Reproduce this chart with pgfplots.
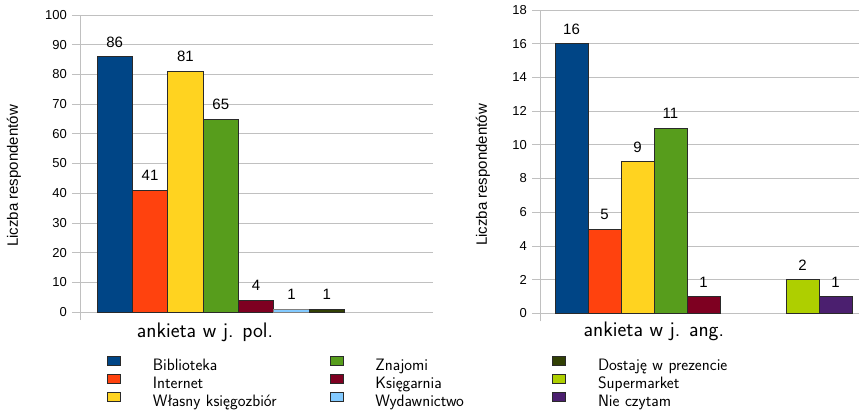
\documentclass[border=0pt]{standalone}
\usepackage{fontspec}
\usepackage{pgfplots}
\pgfplotsset{compat=1.18}
\newfontfamily\arial{Liberation Sans}

\definecolor{cBib}{HTML}{004586}
\definecolor{cInt}{HTML}{FF420E}
\definecolor{cWla}{HTML}{FFD320}
\definecolor{cZna}{HTML}{579D1C}
\definecolor{cKsi}{HTML}{7E0021}
\definecolor{cWyd}{HTML}{83CAFF}
\definecolor{cDos}{HTML}{314004}
\definecolor{cSup}{HTML}{AECF00}
\definecolor{cNie}{HTML}{4B1F6F}
\definecolor{gridgrey}{HTML}{C0C0C0}
\definecolor{edge}{HTML}{2A2A2A}

\pgfplotsset{
  chart/.style={
    scale only axis,
    anchor=south west,
    clip=false,
    ybar, bar width=1, bar shift=0pt,
    axis x line*=bottom,
    x axis line style={draw=none},
    xtick=\empty,
    axis y line*=left,
    y axis line style={-, draw=gridgrey, line width=0.8pt, shorten <=-8pt},
    ymajorgrids,
    grid style={draw=gridgrey, line width=0.8pt},
    major tick length=8pt, tick align=outside,
    ytick style={draw=gridgrey, line width=0.8pt},
    yticklabel style={font=\arial\fontsize{13}{13}\selectfont, inner sep=0pt, xshift=-5pt},
    /pgf/number format/assume math mode=true,
    nodes near coords,
    nodes near coords style={font=\arial\fontsize{15}{15}\selectfont, inner sep=0pt, anchor=south, yshift=9pt, text=black},
    every axis plot/.append style={draw=edge, line width=0.8pt},
    xlabel style={font=\sffamily\fontsize{21}{24}\selectfont, anchor=base},
    ylabel style={font=\arial\fontsize{15}{16}\selectfont, anchor=center},
  }
}

\begin{document}
\begin{tikzpicture}
\useasboundingbox (0pt,0pt) rectangle (859pt,410pt);

% ankieta w j. pol.
\begin{axis}[chart,
  at={(80pt,98pt)}, width=353pt, height=297pt,
  xmin=-0.98, xmax=9, ymin=0, ymax=100,
  ytick={0,10,...,100},
  xlabel={ankieta w j. pol.},
  xlabel style={at={(axis description cs:0.354,-0.0842)}},
  ylabel={Liczba respondentów},
  ylabel style={at={(axis description cs:-0.187,0.458)}},
  legend columns=3,
  legend cell align=left,
  legend image code/.code={\draw[#1] (0pt,1pt) rectangle (13pt,10pt);},
  legend style={draw=none, fill=none, inner sep=0pt, row sep=0pt,
    at={(0.0765,-0.148)}, anchor=north west,
    font=\sffamily\fontsize{16.5}{19}\selectfont,
    nodes={inner sep=0pt, text height=12pt, text depth=3.5pt, text width=177pt, align=left},
    /tikz/every odd column/.append style={column sep=32pt},
    /tikz/every even column/.append style={column sep=0pt}},
]
\addplot[fill=cBib, forget plot] coordinates {(0,86)};
\addplot[fill=cInt, forget plot] coordinates {(1,41)};
\addplot[fill=cWla, forget plot] coordinates {(2,81)};
\addplot[fill=cZna, forget plot] coordinates {(3,65)};
\addplot[fill=cKsi, forget plot] coordinates {(4,4)};
\addplot[fill=cWyd, draw=gray, forget plot] coordinates {(5,1)};
\addplot[fill=cDos, forget plot] coordinates {(6,1)};

\addlegendimage{fill=cBib, draw=edge, line width=0.6pt}
\addlegendentry{Biblioteka}
\addlegendimage{fill=cZna, draw=edge, line width=0.6pt}
\addlegendentry{Znajomi}
\addlegendimage{fill=cDos, draw=edge, line width=0.6pt}
\addlegendentry{Dostaję w prezencie}
\addlegendimage{fill=cInt, draw=edge, line width=0.6pt}
\addlegendentry{Internet}
\addlegendimage{fill=cKsi, draw=edge, line width=0.6pt}
\addlegendentry{Księgarnia}
\addlegendimage{fill=cSup, draw=edge, line width=0.6pt}
\addlegendentry{Supermarket}
\addlegendimage{fill=cWla, draw=edge, line width=0.6pt}
\addlegendentry{Własny księgozbiór}
\addlegendimage{fill=cWyd, draw=edge, line width=0.6pt}
\addlegendentry{Wydawnictwo}
\addlegendimage{fill=cNie, draw=edge, line width=0.6pt}
\addlegendentry{Nie czytam}
\end{axis}

% ankieta w j. ang.
\begin{axis}[chart,
  at={(540pt,96.7pt)}, width=319pt, height=303.3pt,
  xmin=-0.955, xmax=8.712, ymin=0, ymax=18,
  ytick={0,2,...,18},
  xlabel={ankieta w j. ang.},
  xlabel style={at={(axis description cs:0.357,-0.078)}},
  ylabel={Liczba respondentów},
  ylabel style={at={(axis description cs:-0.179,0.456)}},
]
\addplot[fill=cBib] coordinates {(0,16)};
\addplot[fill=cInt] coordinates {(1,5)};
\addplot[fill=cWla] coordinates {(2,9)};
\addplot[fill=cZna] coordinates {(3,11)};
\addplot[fill=cKsi] coordinates {(4,1)};
\addplot[fill=cSup] coordinates {(7,2)};
\addplot[fill=cNie] coordinates {(8,1)};
\end{axis}
\end{tikzpicture}
\end{document}
